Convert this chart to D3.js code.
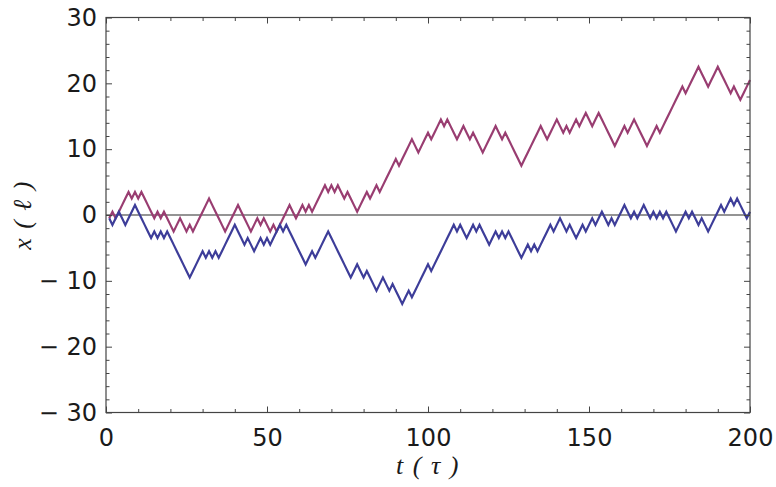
<!DOCTYPE html>
<html>
<head>
<meta charset="utf-8">
<script src="https://cdn.jsdelivr.net/npm/d3@7/dist/d3.min.js"></script>
<style>
  body { margin: 0; background: #fff; }
  .tick text { font-family: "DejaVu Sans", sans-serif; font-size: 24px; fill: #1a1a1a; }
  .domain { display: none; }
</style>
</head>
<body>
<div id="chart"></div>
<script>
// positions of the two walks, one value per time step, t = 1 .. 200
const walkA = [
  -0.5, 0.5, -0.5, 0.5, 1.5, 2.5, 3.5, 2.5, 3.5, 2.5,
  3.5, 2.5, 1.5, 0.5, -0.5, 0.5, -0.5, 0.5, -0.5, -1.5,
  -2.5, -1.5, -0.5, -1.5, -2.5, -1.5, -2.5, -1.5, -0.5, 0.5,
  1.5, 2.5, 1.5, 0.5, -0.5, -1.5, -2.5, -1.5, -0.5, 0.5,
  1.5, 0.5, -0.5, -1.5, -2.5, -1.5, -0.5, -1.5, -0.5, -1.5,
  -2.5, -1.5, -2.5, -1.5, -0.5, 0.5, 1.5, 0.5, -0.5, 0.5,
  1.5, 0.5, 1.5, 0.5, 1.5, 2.5, 3.5, 4.5, 3.5, 4.5,
  3.5, 4.5, 3.5, 2.5, 3.5, 2.5, 1.5, 0.5, 1.5, 2.5,
  3.5, 2.5, 3.5, 4.5, 3.5, 4.5, 5.5, 6.5, 7.5, 8.5,
  7.5, 8.5, 9.5, 10.5, 11.5, 10.5, 9.5, 10.5, 11.5, 12.5,
  11.5, 12.5, 13.5, 14.5, 13.5, 14.5, 13.5, 12.5, 11.5, 12.5,
  13.5, 12.5, 11.5, 12.5, 11.5, 10.5, 9.5, 10.5, 11.5, 12.5,
  13.5, 12.5, 11.5, 12.5, 11.5, 10.5, 9.5, 8.5, 7.5, 8.5,
  9.5, 10.5, 11.5, 12.5, 13.5, 12.5, 11.5, 12.5, 13.5, 14.5,
  13.5, 12.5, 13.5, 12.5, 13.5, 14.5, 13.5, 14.5, 15.5, 14.5,
  13.5, 14.5, 15.5, 14.5, 13.5, 12.5, 11.5, 10.5, 11.5, 12.5,
  13.5, 12.5, 13.5, 14.5, 13.5, 12.5, 11.5, 10.5, 11.5, 12.5,
  13.5, 12.5, 13.5, 14.5, 15.5, 16.5, 17.5, 18.5, 19.5, 18.5,
  19.5, 20.5, 21.5, 22.5, 21.5, 20.5, 19.5, 20.5, 21.5, 22.5,
  21.5, 20.5, 19.5, 18.5, 19.5, 18.5, 17.5, 18.5, 19.5, 20.5
];
const walkB = [
  -0.5, -1.5, -0.5, 0.5, -0.5, -1.5, -0.5, 0.5, 1.5, 0.5,
  -0.5, -1.5, -2.5, -3.5, -2.5, -3.5, -2.5, -3.5, -2.5, -3.5,
  -4.5, -5.5, -6.5, -7.5, -8.5, -9.5, -8.5, -7.5, -6.5, -5.5,
  -6.5, -5.5, -6.5, -5.5, -6.5, -5.5, -4.5, -3.5, -2.5, -1.5,
  -2.5, -3.5, -4.5, -3.5, -4.5, -5.5, -4.5, -3.5, -4.5, -3.5,
  -4.5, -3.5, -2.5, -1.5, -2.5, -1.5, -2.5, -3.5, -4.5, -5.5,
  -6.5, -7.5, -6.5, -5.5, -6.5, -5.5, -4.5, -3.5, -2.5, -3.5,
  -4.5, -5.5, -6.5, -7.5, -8.5, -9.5, -8.5, -7.5, -8.5, -9.5,
  -8.5, -9.5, -10.5, -11.5, -10.5, -9.5, -10.5, -11.5, -10.5, -11.5,
  -12.5, -13.5, -12.5, -11.5, -12.5, -11.5, -10.5, -9.5, -8.5, -7.5,
  -8.5, -7.5, -6.5, -5.5, -4.5, -3.5, -2.5, -1.5, -2.5, -1.5,
  -2.5, -3.5, -2.5, -1.5, -2.5, -1.5, -2.5, -3.5, -4.5, -3.5,
  -2.5, -3.5, -2.5, -3.5, -2.5, -3.5, -4.5, -5.5, -6.5, -5.5,
  -4.5, -5.5, -4.5, -5.5, -4.5, -3.5, -2.5, -1.5, -2.5, -1.5,
  -0.5, -1.5, -2.5, -1.5, -2.5, -3.5, -2.5, -1.5, -2.5, -1.5,
  -0.5, -1.5, -0.5, 0.5, -0.5, -1.5, -0.5, -1.5, -0.5, 0.5,
  1.5, 0.5, -0.5, 0.5, -0.5, 0.5, 1.5, 0.5, -0.5, 0.5,
  -0.5, 0.5, -0.5, 0.5, -0.5, -1.5, -2.5, -1.5, -0.5, 0.5,
  -0.5, 0.5, -0.5, -1.5, -0.5, -1.5, -2.5, -1.5, -0.5, 0.5,
  1.5, 0.5, 1.5, 2.5, 1.5, 2.5, 1.5, 0.5, -0.5, 0.5
];
const xMajor = [0, 50, 100, 150, 200];
const xMinor = [10, 20, 30, 40, 60, 70, 80, 90, 110, 120, 130, 140, 160, 170, 180, 190];
const yMajor = [-30, -20, -10, 0, 10, 20, 30];

const width = 776, height = 487;
const margin = {top: 17.5, right: 26, bottom: 74.5, left: 106};
const svg = d3.select("#chart").append("svg")
  .attr("width", width).attr("height", height);

const x = d3.scaleLinear().domain([0, 200]).range([margin.left, width - margin.right]);
const y = d3.scaleLinear().domain([-30, 30]).range([height - margin.bottom, margin.top]);
const yMinor = d3.range(-30, 31, 2).filter(v => v % 10 !== 0);

const fmt = d => d < 0 ? "\u2212 " + (-d) : String(d);
const frameColor = "#444";

// zero line
svg.append("line")
  .attr("x1", x(0)).attr("x2", x(200))
  .attr("y1", y(0)).attr("y2", y(0))
  .attr("stroke", "#707070").attr("stroke-width", 1.4);

// walks
const line = d3.line().x((d, i) => x(i + 1)).y(d => y(d));
svg.append("path").datum(walkA)
  .attr("d", line).attr("fill", "none")
  .attr("stroke", "#993d71").attr("stroke-width", 2.2)
  .attr("stroke-linejoin", "miter");
svg.append("path").datum(walkB)
  .attr("d", line).attr("fill", "none")
  .attr("stroke", "#3d3d99").attr("stroke-width", 2.2)
  .attr("stroke-linejoin", "miter");

// frame ticks (inward)
function ticks(axisFn, scale, vals, size, pos, labels) {
  const g = svg.append("g").attr("transform", pos)
    .call(axisFn(scale).tickValues(vals).tickSize(-size)
      .tickPadding(labels ? 9 : 0).tickFormat(labels ? fmt : ""));
  g.selectAll(".tick line").attr("stroke", frameColor).attr("stroke-width", 1);
  return g;
}
const posBottom = `translate(0,${y(-30)})`, posTop = `translate(0,${y(30)})`;
const posLeft = `translate(${x(0)},0)`, posRight = `translate(${x(200)},0)`;

const xb = ticks(d3.axisBottom, x, xMajor, 6, posBottom, true);
xb.selectAll(".tick text").attr("dy", "1.0em");
ticks(d3.axisBottom, x, xMinor, 3.5, posBottom, false);
ticks(d3.axisTop, x, xMajor, 6, posTop, false);
ticks(d3.axisTop, x, xMinor, 3.5, posTop, false);

ticks(d3.axisLeft, y, yMajor, 6, posLeft, true);
ticks(d3.axisLeft, y, yMinor, 3.5, posLeft, false);
ticks(d3.axisRight, y, yMajor, 6, posRight, false);
ticks(d3.axisRight, y, yMinor, 3.5, posRight, false);

// frame
svg.append("rect")
  .attr("x", x(0)).attr("y", y(30))
  .attr("width", x(200) - x(0)).attr("height", y(-30) - y(30))
  .attr("fill", "none").attr("stroke", frameColor).attr("stroke-width", 1.2);

// axis labels
svg.append("text")
  .attr("x", x(100)).attr("y", 474)
  .attr("text-anchor", "middle")
  .style("font-family", "'Liberation Serif', serif").style("font-style", "italic")
  .style("font-size", "26px").style("letter-spacing", "1.5px").style("fill", "#1a1a1a")
  .text("t ( \u03c4 )");
svg.append("text")
  .attr("transform", `translate(31,${y(0)}) rotate(-90)`)
  .attr("text-anchor", "middle")
  .style("font-family", "'Liberation Serif', serif").style("font-style", "italic")
  .style("font-size", "26px").style("letter-spacing", "1.5px").style("fill", "#1a1a1a")
  .text("x ( \u2113 )");
</script>
</body>
</html>
